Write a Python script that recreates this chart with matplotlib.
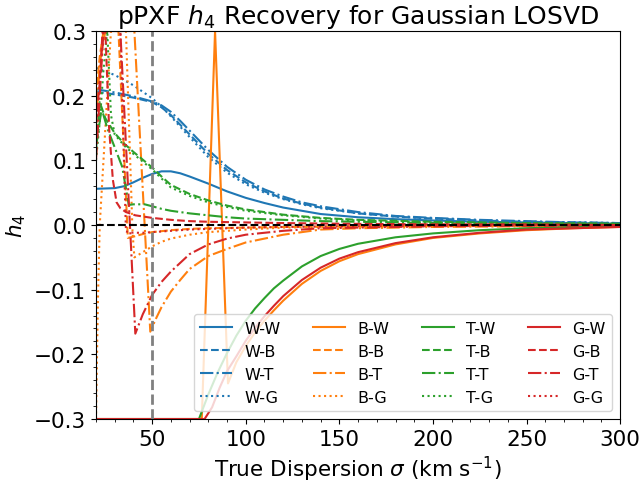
import matplotlib
matplotlib.use("Agg")
import matplotlib.pyplot as plt

# W = blue, B = orange, T = green, G = red ; first letter = template, second = LOSVD fit
ww_x = [20, 30, 35, 40, 45, 50, 55, 60, 65, 70, 80, 90, 100, 110, 120, 140, 160, 180, 200, 225, 250, 275, 300]
ww_h = [0.056, 0.057, 0.060, 0.066, 0.073, 0.079, 0.083, 0.083, 0.080, 0.075, 0.064, 0.052, 0.042, 0.034,
        0.027, 0.017, 0.012, 0.009, 0.007, 0.005, 0.004, 0.003, 0.002]
wb_x = [20, 30, 40, 50, 55, 60, 65, 70, 80, 90, 100, 110, 120, 130, 140, 160, 180, 200, 225, 250, 275, 300]
wb_h = [0.206, 0.202, 0.197, 0.190, 0.182, 0.170, 0.155, 0.140, 0.110, 0.085, 0.066, 0.052, 0.041, 0.033,
        0.027, 0.018, 0.013, 0.010, 0.007, 0.005, 0.004, 0.003]
wt_x = wb_x
wt_h = [0.210, 0.205, 0.199, 0.191, 0.185, 0.175, 0.161, 0.146, 0.116, 0.090, 0.070, 0.055, 0.044, 0.035,
        0.029, 0.020, 0.014, 0.011, 0.008, 0.006, 0.004, 0.003]
wg_x = wb_x
wg_h = [0.243, 0.232, 0.216, 0.196, 0.183, 0.168, 0.152, 0.136, 0.105, 0.081, 0.063, 0.050, 0.040, 0.032,
        0.026, 0.018, 0.013, 0.010, 0.007, 0.005, 0.004, 0.003]

bw_x = [20, 76.5, 83.6, 90.5, 95, 100, 105, 110, 115, 120, 130, 140, 150, 160, 180, 200, 225, 250, 275, 300]
bw_h = [-0.3, -0.3, 0.3, -0.245, -0.212, -0.187, -0.166, -0.148, -0.132, -0.117, -0.091, -0.071, -0.056,
        -0.045, -0.030, -0.020, -0.013, -0.008, -0.005, -0.003]
bb_x = [20, 22, 24, 32, 37, 40, 45, 50, 60, 70, 80, 100, 120, 150, 200, 250, 300]
bb_h = [0.2, 0.26, 0.3, 0.3, -0.02, -0.018, -0.014, -0.011, -0.008, -0.006, -0.005, -0.004, -0.003, -0.002,
        -0.001, -0.001, 0.0]
bt_x = [20, 22, 25, 40.5, 49, 52, 55, 60, 65, 70, 80, 90, 100, 120, 140, 160, 200, 250, 300]
bt_h = [0.15, 0.25, 0.3, 0.3, -0.165, -0.145, -0.127, -0.103, -0.085, -0.068, -0.048, -0.037, -0.027,
        -0.015, -0.007, -0.005, -0.003, -0.002, -0.001]
bg_x = [20, 21, 22, 24, 26, 28, 36, 39.5, 40.5, 45, 50, 55, 60, 70, 80, 100, 120, 140, 200, 300]
bg_h = [-0.3, -0.12, 0.0, 0.1, 0.2, 0.3, 0.3, -0.01, -0.05, -0.042, -0.033, -0.026, -0.021, -0.015, -0.011,
        -0.007, -0.004, -0.003, -0.001, 0.0]

tw_x = [20, 75, 80, 85, 90, 95, 100, 105, 110, 115, 120, 130, 140, 150, 160, 180, 200, 225, 250, 275, 300]
tw_h = [-0.3, -0.3, -0.262, -0.228, -0.198, -0.171, -0.148, -0.129, -0.113, -0.098, -0.086, -0.064, -0.048,
        -0.037, -0.029, -0.019, -0.013, -0.008, -0.005, -0.003, -0.002]
tb_x = [20, 22, 25, 30, 35, 40, 45, 50, 55, 60, 70, 80, 90, 100, 120, 140, 160, 200, 250, 300]
tb_h = [0.11, 0.19, 0.165, 0.142, 0.126, 0.113, 0.101, 0.089, 0.075, 0.062, 0.048, 0.038, 0.030, 0.024,
        0.016, 0.011, 0.008, 0.005, 0.003, 0.002]
tt_x = [20, 23, 26, 30, 34, 37.5, 40, 46, 50, 55, 60, 70, 80, 90, 100, 120, 140, 160, 200, 250, 300]
tt_h = [0.12, 0.18, 0.15, 0.12, 0.09, 0.031, 0.032, 0.032, 0.029, 0.025, 0.022, 0.018, 0.015, 0.012, 0.010,
        0.008, 0.006, 0.005, 0.003, 0.002, 0.001]
tg_x = [20, 22, 24, 26, 28, 30, 35, 40, 45, 50, 55, 60, 70, 80, 90, 100, 120, 140, 160, 200, 250, 300]
tg_h = [0.10, 0.16, 0.24, 0.3, 0.17, 0.14, 0.123, 0.110, 0.098, 0.086, 0.072, 0.058, 0.045, 0.035, 0.028,
        0.022, 0.015, 0.010, 0.007, 0.004, 0.003, 0.002]

gw_x = [20, 78, 82, 86, 90, 95, 100, 105, 110, 115, 120, 130, 140, 150, 160, 180, 200, 225, 250, 275, 300]
gw_h = [-0.3, -0.3, -0.282, -0.252, -0.226, -0.203, -0.179, -0.159, -0.141, -0.125, -0.110, -0.085, -0.066,
        -0.052, -0.042, -0.028, -0.019, -0.012, -0.007, -0.005, -0.003]
gb_x = [20, 22, 23.5, 25, 27, 29, 31, 33, 36, 41, 50, 60, 70, 80, 100, 120, 150, 200, 250, 300]
gb_h = [0.16, 0.22, 0.3, 0.3, 0.15, 0.07, 0.035, 0.026, 0.02, 0.015, 0.011, 0.008, 0.006, 0.005, 0.004,
        0.003, 0.002, 0.001, 0.001, 0.0]
gt_x = [20, 22, 24, 33, 41, 45, 50, 55, 60, 70, 80, 90, 100, 120, 140, 160, 200, 250, 300]
gt_h = [0.10, 0.2, 0.3, 0.3, -0.168, -0.138, -0.108, -0.088, -0.072, -0.045, -0.030, -0.021, -0.015, -0.009,
        -0.005, -0.004, -0.002, -0.001, -0.001]
gg_x = [20, 22, 24, 33, 36, 40, 45, 50, 60, 70, 80, 100, 120, 150, 200, 300]
gg_h = [0.15, 0.22, 0.3, 0.3, -0.01, -0.012, -0.012, -0.011, -0.009, -0.007, -0.006, -0.004, -0.003, -0.002,
        -0.001, 0.0]

series = [
    ("W-W", ww_x, ww_h), ("W-B", wb_x, wb_h), ("W-T", wt_x, wt_h), ("W-G", wg_x, wg_h),
    ("B-W", bw_x, bw_h), ("B-B", bb_x, bb_h), ("B-T", bt_x, bt_h), ("B-G", bg_x, bg_h),
    ("T-W", tw_x, tw_h), ("T-B", tb_x, tb_h), ("T-T", tt_x, tt_h), ("T-G", tg_x, tg_h),
    ("G-W", gw_x, gw_h), ("G-B", gb_x, gb_h), ("G-T", gt_x, gt_h), ("G-G", gg_x, gg_h),
]
colors = {"W": "C0", "B": "C1", "T": "C2", "G": "C3"}
styles = {"W": "-", "B": "--", "T": "-.", "G": ":"}

plt.rcParams["font.size"] = 15.5

fig = plt.figure(figsize=(6.4, 4.85), dpi=100)
ax = fig.add_axes([0.15, 0.134, 0.819, 0.8])

for name, x, h in series:
    ax.plot(x, h, color=colors[name[0]], linestyle=styles[name[2]], label=name)

ax.axhline(0, color="k", linestyle="--")
ax.axvline(50, color="gray", linestyle="--", linewidth=2)

ax.set_xlim(20, 300)
ax.set_ylim(-0.3, 0.3)
ax.minorticks_on()
ax.set_xlabel(r"True Dispersion $\sigma$ (km s$^{-1}$)")
ax.set_ylabel(r"$h_4$")
ax.set_title(r"pPXF $h_4$ Recovery for Gaussian LOSVD", fontsize=18)
ax.legend(ncol=4, loc="lower right", fontsize=11.5)

fig.savefig("out.png", dpi=100)
